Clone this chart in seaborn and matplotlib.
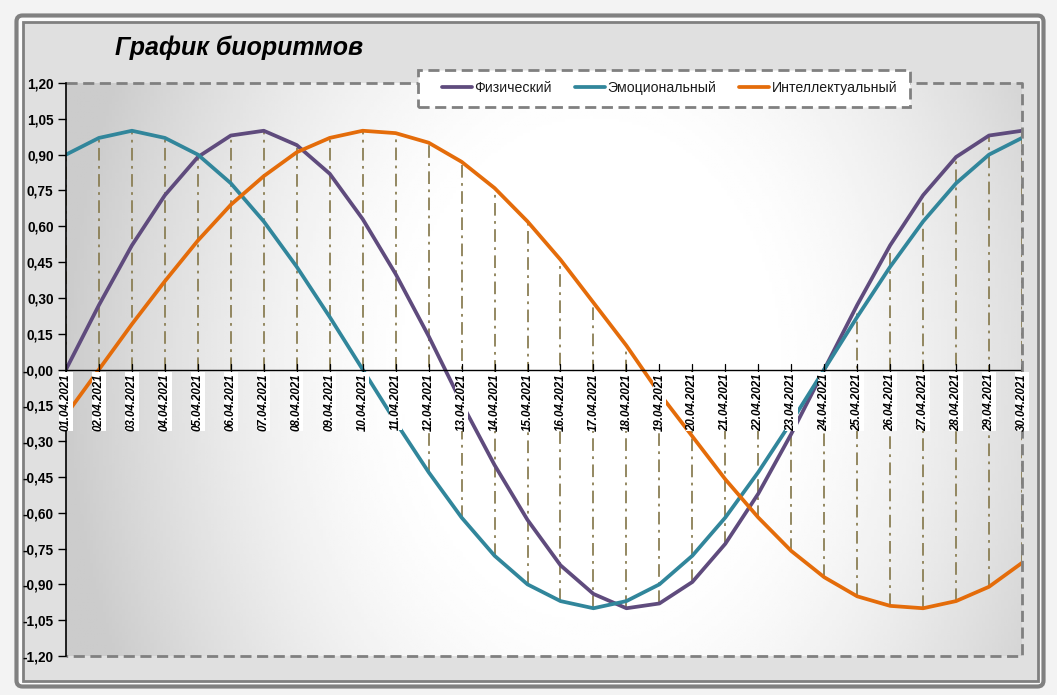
import numpy as np
import pandas as pd
import matplotlib.pyplot as plt
import seaborn as sns
from matplotlib.patches import FancyBboxPatch, Rectangle
from matplotlib.ticker import FuncFormatter

# данные
dates = ['01.04.2021', '02.04.2021', '03.04.2021', '04.04.2021', '05.04.2021',
         '06.04.2021', '07.04.2021', '08.04.2021', '09.04.2021', '10.04.2021',
         '11.04.2021', '12.04.2021', '13.04.2021', '14.04.2021', '15.04.2021',
         '16.04.2021', '17.04.2021', '18.04.2021', '19.04.2021', '20.04.2021',
         '21.04.2021', '22.04.2021', '23.04.2021', '24.04.2021', '25.04.2021',
         '26.04.2021', '27.04.2021', '28.04.2021', '29.04.2021', '30.04.2021']
physical = [0.00, 0.27, 0.52, 0.73, 0.89, 0.98, 1.00, 0.94, 0.82, 0.63,
            0.40, 0.14, -0.14, -0.40, -0.63, -0.82, -0.94, -1.00, -0.98, -0.89,
            -0.73, -0.52, -0.27, 0.00, 0.27, 0.52, 0.73, 0.89, 0.98, 1.00]
emotional = [0.90, 0.97, 1.00, 0.97, 0.90, 0.78, 0.62, 0.43, 0.22, 0.00,
             -0.22, -0.43, -0.62, -0.78, -0.90, -0.97, -1.00, -0.97, -0.90, -0.78,
             -0.62, -0.43, -0.22, 0.00, 0.22, 0.43, 0.62, 0.78, 0.90, 0.97]
intellectual = [-0.19, 0.00, 0.19, 0.37, 0.54, 0.69, 0.81, 0.91, 0.97, 1.00,
                0.99, 0.95, 0.87, 0.76, 0.62, 0.46, 0.28, 0.10, -0.10, -0.28,
                -0.46, -0.62, -0.76, -0.87, -0.95, -0.99, -1.00, -0.97, -0.91, -0.81]
series_names = ['Физический', 'Эмоциональный', 'Интеллектуальный']
colors = ['#5f4b7d', '#31869b', '#e46c0a']

sns.set_style('white')
plt.rcParams['font.family'] = ['Liberation Sans', 'DejaVu Sans']
plt.rcParams['text.color'] = 'black'
plt.rcParams['ytick.color'] = 'black'

df = pd.DataFrame({'day': list(range(len(dates))) * 3,
                   'value': physical + emotional + intellectual,
                   'series': np.repeat(series_names, len(dates))})

W, H = 1057, 695
fig = plt.figure(figsize=(W / 100, H / 100), dpi=100, facecolor='#f3f3f3')

# рамка и фон
fig.patches.append(FancyBboxPatch((0.165, 0.085), 10.27, 6.71,
                                  boxstyle='round,pad=0,rounding_size=0.06',
                                  transform=fig.dpi_scale_trans, zorder=-2,
                                  facecolor='#fbfbfb', edgecolor='#808080', lw=3))
fig.patches.append(FancyBboxPatch((0.225, 0.145), 10.15, 6.59,
                                  boxstyle='square,pad=0', zorder=-1,
                                  transform=fig.dpi_scale_trans,
                                  facecolor='#e0e0e0', edgecolor='#808080', lw=2))

ax = fig.add_axes([66 / W, 1 - 656 / H, 956 / W, 573 / H])
ax.set_facecolor('none')
ax.set_xlim(0, len(dates) - 1)
ax.set_ylim(-1.2, 1.2)

# градиентная заливка области построения
gx, gy = np.meshgrid(np.linspace(0, 1, 300), np.linspace(0, 1, 200))
r = np.sqrt(((gx - 0.55) / 0.5) ** 2 + ((gy - 0.5) / 1.1) ** 2)
shade = 1 - 0.2 * np.clip((r - 0.35) / 0.75, 0, 1) ** 1.5
ax.imshow(shade, cmap='gray', vmin=0, vmax=1, extent=[0, len(dates) - 1, -1.2, 1.2],
          origin='lower', aspect='auto', zorder=0)

# линии проекции
vals = np.array([physical, emotional, intellectual])
ax.vlines(range(len(dates)), np.minimum(vals.min(axis=0), 0), np.maximum(vals.max(axis=0), 0),
          colors='#8b7f55', linestyles=(0, (7, 3, 1.5, 3)), lw=1.3, zorder=1)

sns.lineplot(data=df, x='day', y='value', hue='series', palette=colors,
             hue_order=series_names, lw=2.7, ax=ax, legend=False, zorder=3)

ax.axhline(0, color='black', lw=1, zorder=4)

# оси
ax.spines['bottom'].set_visible(False)
ax.spines['right'].set_visible(False)
ax.spines['top'].set_visible(False)
ax.spines['left'].set_color('black')
ax.spines['left'].set_linewidth(1.2)
ax.spines['left'].set_zorder(6)
ax.plot([0, 1, 1, 0], [1, 1, 0, 0], transform=ax.transAxes, color='#808080',
        lw=2, ls=(0, (4, 2)), clip_on=False, zorder=5)

ax.set_xticks(range(len(dates)))
ax.set_xticklabels([])
for i, d in enumerate(dates):
    ax.text(i, -0.015, d, rotation=90, ha='center', va='top', fontsize=8.3,
            fontweight='bold', fontstyle='italic', zorder=7,
            bbox=dict(facecolor='white', edgecolor='none', pad=0.5))
    ax.plot([i, i], [-0.025, 0.025], color='black', lw=0.9, zorder=6)
ax.tick_params(axis='x', length=0)

ax.set_yticks(np.round(np.arange(-1.2, 1.21, 0.15), 2))
ax.yaxis.set_major_formatter(FuncFormatter(lambda v, p: f'{v:.2f}'.replace('.', ',')))
ax.tick_params(axis='y', direction='out', length=6, width=1, color='black', pad=3,
               labelsize=9.8, left=True, labelcolor='black')
for lbl in ax.get_yticklabels():
    lbl.set_fontweight('bold')
ax.set_xlabel('')
ax.set_ylabel('')

fig.text(115 / W, 1 - 48 / H, 'График биоритмов', fontsize=18, fontweight='bold',
         fontstyle='italic', ha='left', va='center', color='black')

# легенда в пунктирной рамке
fig.add_artist(Rectangle((418 / W, 1 - 107 / H), 492 / W, 37 / H, transform=fig.transFigure,
                         facecolor='white', edgecolor='#808080', lw=2, ls=(0, (4, 2)),
                         zorder=4))
handles = ax.get_lines()[:3]
leg = fig.legend(handles, series_names, loc='center left',
                 bbox_to_anchor=(442 / W, 1 - 88 / H), ncol=3, frameon=False,
                 fontsize=10.2, handlelength=2.1, handletextpad=0.2,
                 columnspacing=1.6, borderpad=0, borderaxespad=0)
leg.set_zorder(5)
for t in leg.get_texts():
    t.set_color('#1a1a1a')

fig.savefig('out.png', dpi=100, facecolor=fig.get_facecolor())
